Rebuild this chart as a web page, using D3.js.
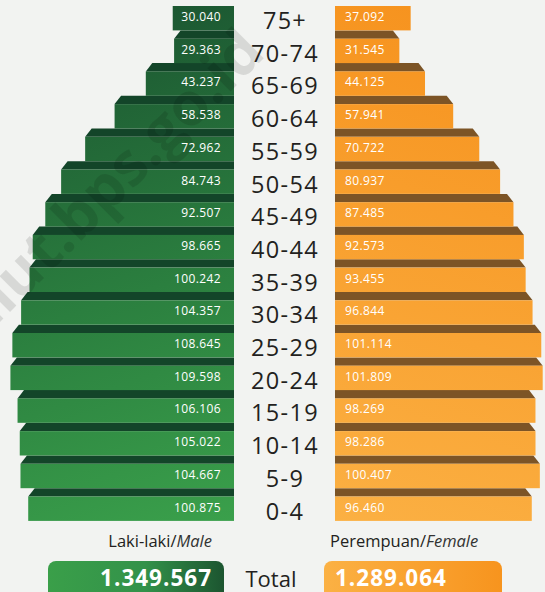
<!DOCTYPE html>
<html>
<head>
<meta charset="utf-8">
<script src="https://cdn.jsdelivr.net/npm/d3@7"></script>
<style>
  html, body { margin: 0; padding: 0; background: #f2f3f1; }
  svg { display: block; }
</style>
</head>
<body>
<script>
// ---- DATA ----
const ageGroups = ["75+","70-74","65-69","60-64","55-59","50-54","45-49","40-44","35-39","30-34","25-29","20-24","15-19","10-14","5-9","0-4"];
const maleValues = [30040, 29363, 43237, 58538, 72962, 84743, 92507, 98665, 100242, 104357, 108645, 109598, 106106, 105022, 104667, 100875];
const femaleValues = [37092, 31545, 44125, 57941, 70722, 80937, 87485, 92573, 93455, 96844, 101114, 101809, 98269, 98286, 100407, 96460];
const maleLabel = "Laki-laki/";
const maleLabelEn = "Male";
const femaleLabel = "Perempuan/";
const femaleLabelEn = "Female";
const totalLabel = "Total";
const maleTotal = 1349567;
const femaleTotal = 1289064;
const watermark = "kalut.bps.go.id";

const W = 545, H = 592;
const fmt = v => d3.format(",")(v).replace(/,/g, ".");

const svg = d3.select("body").append("svg").attr("width", W).attr("height", H);
svg.append("rect").attr("width", W).attr("height", H).attr("fill", "#f2f3f1");

const defs = svg.append("defs");
const gM = defs.append("linearGradient").attr("id","gM").attr("gradientUnits","userSpaceOnUse")
  .attr("x1",60).attr("y1",0).attr("x2",234).attr("y2",522);
gM.append("stop").attr("offset",0).attr("stop-color","#1a5230");
gM.append("stop").attr("offset",0.55).attr("stop-color","#2b7f3f");
gM.append("stop").attr("offset",1).attr("stop-color","#3aa04b");
const gF = defs.append("linearGradient").attr("id","gF").attr("gradientUnits","userSpaceOnUse")
  .attr("x1",520).attr("y1",0).attr("x2",335).attr("y2",522);
gF.append("stop").attr("offset",0).attr("stop-color","#f6911c");
gF.append("stop").attr("offset",1).attr("stop-color","#fbb043");
const gTM = defs.append("linearGradient").attr("id","gTM").attr("x1",0).attr("x2",1).attr("y1",0).attr("y2",0);
gTM.append("stop").attr("offset",0).attr("stop-color","#3a9f49");
gTM.append("stop").attr("offset",0.55).attr("stop-color","#33924a");
gTM.append("stop").attr("offset",1).attr("stop-color","#1c5530");
const gTF = defs.append("linearGradient").attr("id","gTF").attr("x1",0).attr("x2",1).attr("y1",0).attr("y2",0);
gTF.append("stop").attr("offset",0).attr("stop-color","#fbb144");
gTF.append("stop").attr("offset",1).attr("stop-color","#f7941e");

// ---- SCALES ----
const maleEdge = 234, femaleEdge = 335;
const x = d3.scaleLinear().domain([0, 110000]).range([0, 224.4]);
const stripH = 8.3, barH = 24.4;
const y = d3.scaleBand().domain(ageGroups).range([-2.3, -2.3 + 16 * (stripH + barH)]).padding(0);

const rows = ageGroups.map((a, i) => ({ age: a, m: maleValues[i], f: femaleValues[i], i }));

// strips (3D top faces)
const strips = svg.append("g");
rows.filter(d => d.i > 0).forEach(d => {
  const t = y(d.age), b = t + stripH, s = 6.5;
  const mx = maleEdge - x(d.m);
  strips.append("path").attr("fill", "#134529")
    .attr("d", `M${mx},${b} L${mx + s},${t} L${maleEdge},${t} L${maleEdge},${b} Z`);
  const fx = femaleEdge + x(d.f);
  strips.append("path").attr("fill", "#7c5426")
    .attr("d", `M${femaleEdge},${b} L${femaleEdge},${t} L${fx - s},${t} L${fx},${b} Z`);
});

// bars
svg.append("g").selectAll("rect").data(rows).join("rect")
  .attr("x", d => maleEdge - x(d.m)).attr("y", d => y(d.age) + stripH)
  .attr("width", d => x(d.m)).attr("height", barH).attr("fill", "url(#gM)");
svg.append("g").selectAll("rect").data(rows).join("rect")
  .attr("x", femaleEdge).attr("y", d => y(d.age) + stripH)
  .attr("width", d => x(d.f)).attr("height", barH).attr("fill", "url(#gF)");

// watermark
svg.append("text").attr("transform", "translate(267,55) rotate(-45)")
  .attr("text-anchor", "end").attr("font-family", "'Open Sans', sans-serif")
  .attr("font-weight", 700).attr("font-size", 60).attr("fill", "#000").attr("fill-opacity", 0.11)
  .text(watermark);

// value labels
const vfont = "'Open Sans', sans-serif";
svg.append("g").selectAll("text").data(rows).join("text")
  .attr("x", 221).attr("y", d => y(d.age) + stripH + 15)
  .attr("text-anchor", "end").attr("font-family", vfont).attr("font-size", 12)
  .attr("letter-spacing", 0.4).attr("fill", "#fff").text(d => fmt(d.m));
svg.append("g").selectAll("text").data(rows).join("text")
  .attr("x", 345).attr("y", d => y(d.age) + stripH + 15)
  .attr("text-anchor", "start").attr("font-family", vfont).attr("font-size", 12)
  .attr("letter-spacing", 0.4).attr("fill", "#fff").text(d => fmt(d.f));

// age labels
svg.append("g").selectAll("text").data(rows).join("text")
  .attr("x", 285).attr("y", d => y(d.age) + stripH + 23)
  .attr("text-anchor", "middle").attr("font-family", vfont).attr("font-size", 23.5)
  .attr("letter-spacing", 1.3).attr("fill", "#231f20").text(d => d.age);

// legend labels
const lm = svg.append("text").attr("x", 212).attr("y", 547).attr("text-anchor", "end")
  .attr("font-family", vfont).attr("font-size", 16.5).attr("fill", "#231f20");
lm.append("tspan").text(maleLabel);
lm.append("tspan").attr("font-style", "italic").attr("fill", "#333").text(maleLabelEn);
const lf = svg.append("text").attr("x", 330).attr("y", 547).attr("text-anchor", "start")
  .attr("font-family", vfont).attr("font-size", 16.5).attr("fill", "#231f20");
lf.append("tspan").text(femaleLabel);
lf.append("tspan").attr("font-style", "italic").attr("fill", "#333").text(femaleLabelEn);

// totals
svg.append("rect").attr("x", 48).attr("y", 561).attr("width", 176).attr("height", 42).attr("rx", 8).attr("fill", "url(#gTM)");
svg.append("rect").attr("x", 324).attr("y", 561).attr("width", 178).attr("height", 42).attr("rx", 8).attr("fill", "url(#gTF)");
svg.append("text").attr("x", 212).attr("y", 585.5).attr("text-anchor", "end")
  .attr("font-family", vfont).attr("font-weight", 700).attr("font-size", 22.5).attr("letter-spacing", 1)
  .attr("fill", "#fff").text(fmt(maleTotal));
svg.append("text").attr("x", 335).attr("y", 585.5).attr("text-anchor", "start")
  .attr("font-family", vfont).attr("font-weight", 700).attr("font-size", 22.5).attr("letter-spacing", 1)
  .attr("fill", "#fff").text(fmt(femaleTotal));
svg.append("text").attr("x", 271).attr("y", 587).attr("text-anchor", "middle")
  .attr("font-family", vfont).attr("font-size", 22).attr("fill", "#231f20").text(totalLabel);
</script>
</body>
</html>
